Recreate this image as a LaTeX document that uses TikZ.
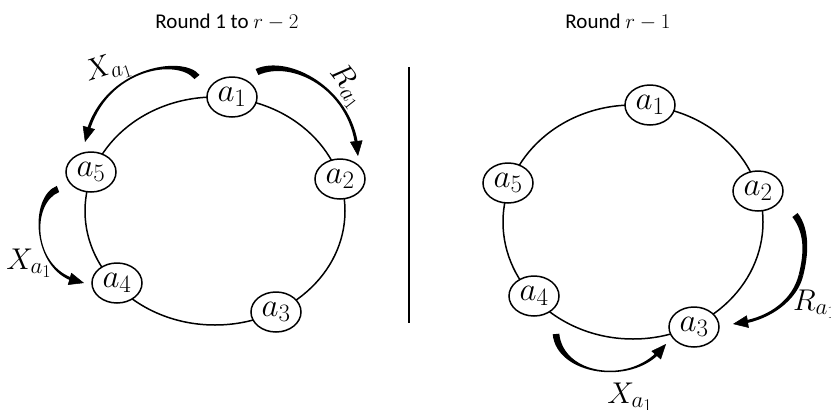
\RequirePackage{fix-cm}
\documentclass[tikz,border=0pt]{standalone}
\usepackage{fontspec}
\newfontfamily\titlefont{Carlito}
\usetikzlibrary{shapes.geometric,arrows.meta,calc}
\DeclareMathSizes{33}{33}{25}{20}
\DeclareMathSizes{30}{30}{23}{18}
% filled tapered cubic segment: #1 start, #2 #3 controls, #4 end, #5 start half-width, #6 end half-width
\newcommand{\taperseg}[6]{%
  \coordinate (ta) at ($(#1)!#5!90:(#2)$);
  \coordinate (tb) at ($(#1)!#5!-90:(#2)$);
  \coordinate (tc) at ($(#4)!#6!-90:(#3)$);
  \coordinate (td) at ($(#4)!#6!90:(#3)$);
  \fill (ta) .. controls ($(#2)+(ta)-(#1)$) and ($(#3)+(tc)-(#4)$) .. (tc)
        -- (td) .. controls ($(#3)+(td)-(#4)$) and ($(#2)+(tb)-(#1)$) .. (tb) -- cycle;
}
\begin{document}
\begin{tikzpicture}[x=1pt,y=-1pt,
  agent/.style={ellipse,draw,line width=1.5pt,fill=white,minimum width=50pt,minimum height=40pt,inner sep=0pt,font=\fontsize{33}{33}\selectfont},
  ring/.style={line width=1.5pt},
  tip/.style={line width=0.5pt,-{Triangle[length=15pt,width=12.5pt]}},
  lab/.style={inner sep=0pt,font=\fontsize{30}{30}\selectfont},
  title/.style={inner sep=0pt,font=\titlefont\fontsize{21}{21}\selectfont}]
\useasboundingbox (0,0) rectangle (831,410);

% ---------- left panel ----------
\node[title] (t1) at (227,22) {Round 1 to $r-2$};
\draw[ring] (215,211) ellipse [x radius=130pt, y radius=114pt];
\node[agent] (L1) at (232,97) {$a_1$};
\node[agent] (L2) at (340,179) {$a_2$};
\node[agent] (L3) at (276,312) {$a_3$};
\node[agent] (L4) at (117,283) {$a_4$};
\node[agent] (L5) at (91,172) {$a_5$};

% X_{a1}: a1 -> a5
\coordinate (xs1) at (197,77);
\coordinate (xc1) at (180,56);
\coordinate (xd1) at (105,68);
\coordinate (xt1) at (85,142);
\coordinate (xe1) at ($(xt1)!9pt!(xd1)$);
\taperseg{xs1}{xc1}{xd1}{xe1}{3.3pt}{1.5pt}
\draw[tip] (xe1) -- (xt1);
% R_{a1}: a1 -> a2
\coordinate (rs1) at (257,72);
\coordinate (rc1) at (290,57);
\coordinate (rd1) at (350,88);
\coordinate (rt1) at (358,156);
\coordinate (re1) at ($(rt1)!9pt!(rd1)$);
\taperseg{rs1}{rc1}{rd1}{re1}{3.3pt}{1.5pt}
\draw[tip] (re1) -- (rt1);
% X_{a1}: a5 -> a4
\coordinate (xs2) at (58,189);
\coordinate (xc2) at (30,200);
\coordinate (xd2) at (32,268);
\coordinate (xt2) at (84,283);
\coordinate (xe2) at ($(xt2)!9pt!(xd2)$);
\taperseg{xs2}{xc2}{xd2}{xe2}{3.3pt}{1.5pt}
\draw[tip] (xe2) -- (xt2);

\node[lab,rotate=18] (lx1) at (108,69) {$X_{a_1}$};
\node[lab,rotate=-52] (lr1) at (347,86) {$R_{a_1}$};
\node[lab] (lx2) at (29,263) {$X_{a_1}$};

% ---------- divider ----------
\coordinate (dtop) at (409,67);
\coordinate (dbot) at (409,323);
\draw[line width=1.5pt] (dtop) -- (dbot);

% ---------- right panel ----------
\node[title] (t2) at (618,22) {Round $r-1$};
\draw[ring] (633,222) ellipse [x radius=130pt, y radius=117pt];
\node[agent] (R1) at (650,105) {$a_1$};
\node[agent] (R2) at (758,191) {$a_2$};
\node[agent] (R3) at (694,327) {$a_3$};
\node[agent] (R4) at (534,296) {$a_4$};
\node[agent] (R5) at (508,183) {$a_5$};

% R_{a1}: a2 -> a3 (two segments)
\coordinate (rs2) at (795,215);
\coordinate (rc2) at (808,232);
\coordinate (rd2) at (806,255);
\coordinate (rm2) at (801,275);
\coordinate (rf2) at (795,300);
\coordinate (rg2) at (770,318);
\coordinate (rt2) at (733,324);
\coordinate (re2) at ($(rt2)!9pt!(rg2)$);
\taperseg{rs2}{rc2}{rd2}{rm2}{3.3pt}{2.3pt}
\taperseg{rm2}{rf2}{rg2}{re2}{2.3pt}{1.5pt}
\draw[tip] (re2) -- (rt2);
% X_{a1}: a4 -> a3
\coordinate (xs3) at (556,334);
\coordinate (xc3) at (560,375);
\coordinate (xd3) at (630,385);
\coordinate (xt3) at (666,344);
\coordinate (xe3) at ($(xt3)!9pt!(xd3)$);
\taperseg{xs3}{xc3}{xd3}{xe3}{3.3pt}{1.5pt}
\draw[tip] (xe3) -- (xt3);

\node[lab,anchor=west] (lr2) at (793,304) {$R_{a_1}$};
\node[lab] (lx3) at (630,397) {$X_{a_1}$};
\end{tikzpicture}
\end{document}
